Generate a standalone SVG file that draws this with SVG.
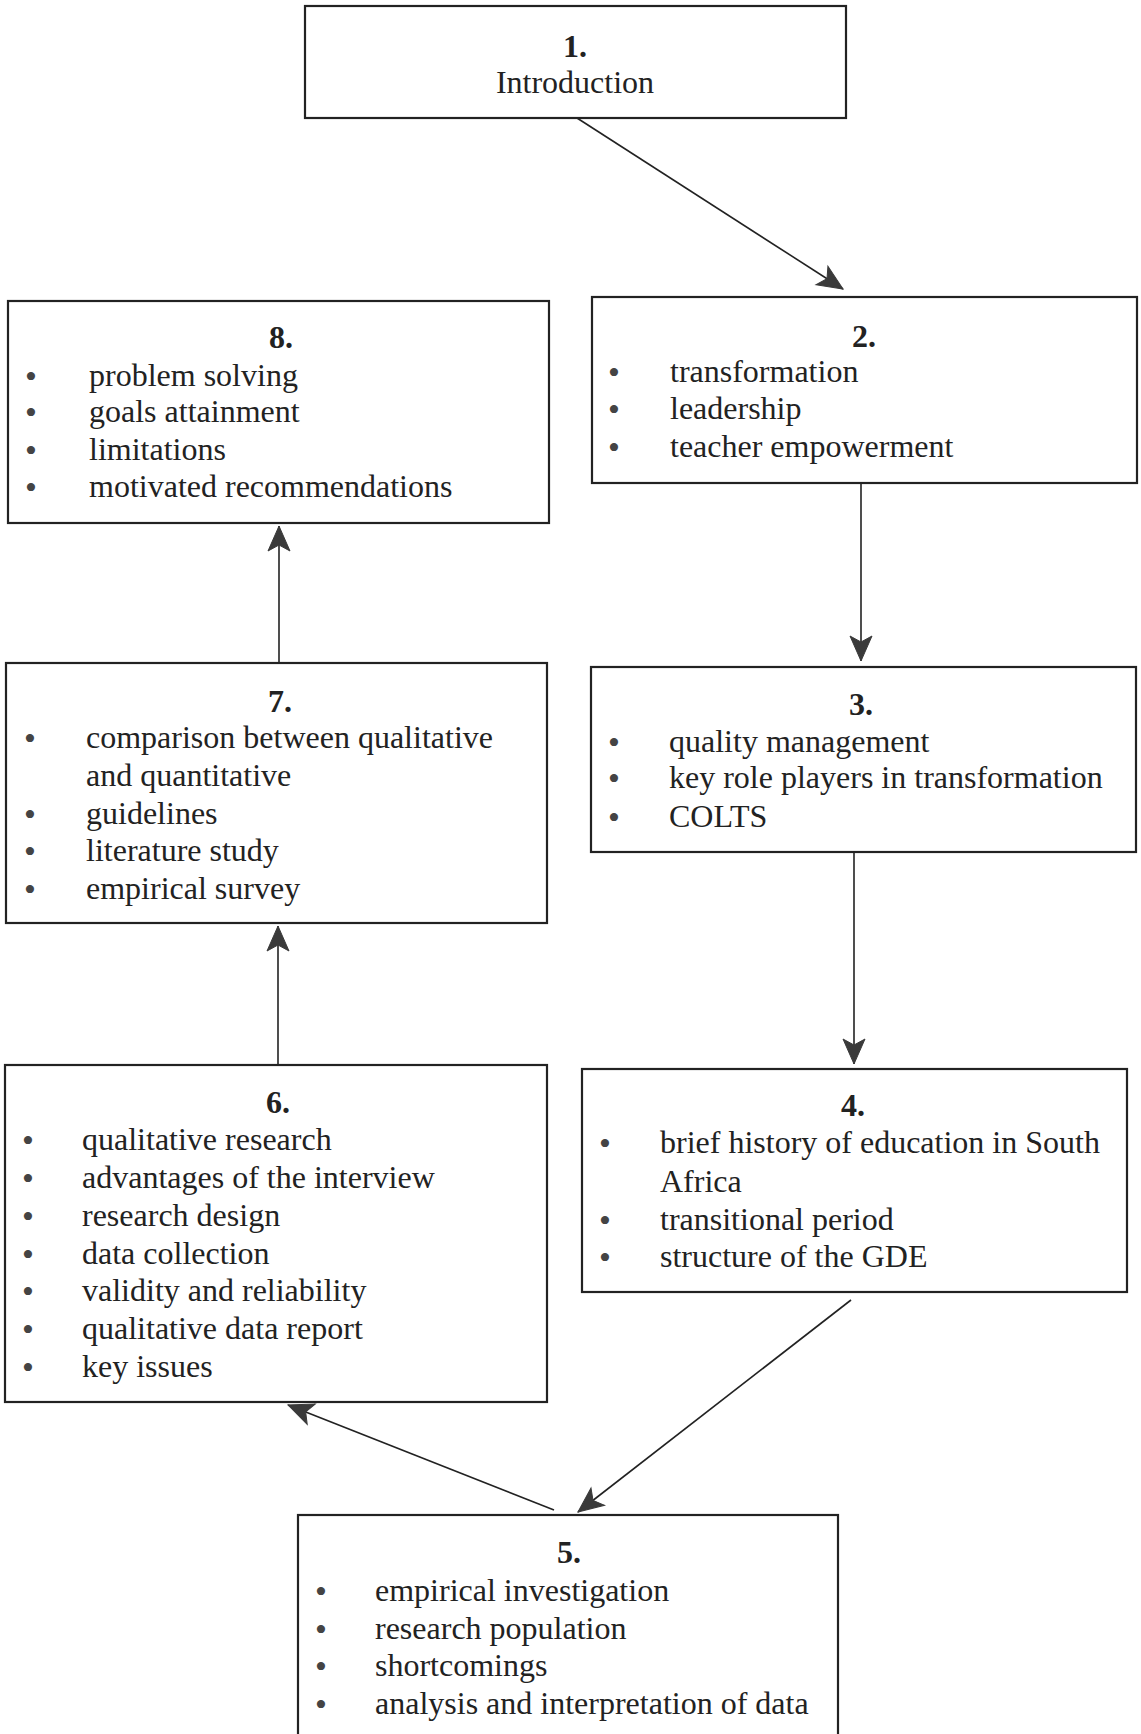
<svg xmlns="http://www.w3.org/2000/svg" width="1141" height="1734" viewBox="0 0 1141 1734">
<style>
.box{fill:#fff;stroke:#222;stroke-width:2.2}
.t{font-family:"Liberation Serif","Times New Roman",serif;font-size:32px;fill:#222}
.n{font-family:"Liberation Serif","Times New Roman",serif;font-size:32px;font-weight:bold;fill:#222;text-anchor:middle}
.b{font-family:"Liberation Serif","Times New Roman",serif;font-size:34px;fill:#444;text-anchor:middle}
.c{fill:none;stroke:#222;stroke-width:1.6}
</style>
<defs>
<marker id="ah" markerUnits="userSpaceOnUse" markerWidth="30" markerHeight="28" viewBox="-28 -14 30 28" refX="0" refY="0" orient="auto">
<path d="M0,0 L-25,-11 L-19,0 L-25,11 Z" fill="#3a3a3a" stroke="#3a3a3a" stroke-width="1" stroke-linejoin="miter"/>
</marker>
</defs>
<rect width="1141" height="1734" fill="#fff"/>
<g id="connectors">
<line class="c" x1="577" y1="118" x2="843" y2="289" marker-end="url(#ah)"/>
<line class="c" x1="861" y1="483" x2="861" y2="661" marker-end="url(#ah)"/>
<line class="c" x1="854" y1="852" x2="854" y2="1064" marker-end="url(#ah)"/>
<line class="c" x1="851" y1="1300" x2="578" y2="1512" marker-end="url(#ah)"/>
<line class="c" x1="554" y1="1510" x2="288" y2="1405" marker-end="url(#ah)"/>
<line class="c" x1="278" y1="1065" x2="278" y2="926" marker-end="url(#ah)"/>
<line class="c" x1="279" y1="663" x2="279" y2="526" marker-end="url(#ah)"/>
</g>
<g id="node1">
<rect class="box" x="305" y="6" width="541" height="112"/>
<text class="n" x="575" y="57">1.</text>
<text class="t" x="575" y="93" text-anchor="middle">Introduction</text>
</g>
<g id="node2">
<rect class="box" x="592" y="297" width="545" height="186"/>
<text class="n" x="864" y="347">2.</text>
<text class="b" x="614" y="384">•</text><text class="t" x="670" y="382">transformation</text>
<text class="b" x="614" y="421">•</text><text class="t" x="670" y="419">leadership</text>
<text class="b" x="614" y="459">•</text><text class="t" x="670" y="457">teacher empowerment</text>
</g>
<g id="node3">
<rect class="box" x="591" y="667" width="545" height="185"/>
<text class="n" x="861" y="715">3.</text>
<text class="b" x="614" y="754">•</text><text class="t" x="669" y="752">quality management</text>
<text class="b" x="614" y="790">•</text><text class="t" x="669" y="788">key role players in transformation</text>
<text class="b" x="614" y="829">•</text><text class="t" x="669" y="827">COLTS</text>
</g>
<g id="node4">
<rect class="box" x="582" y="1069" width="545" height="223"/>
<text class="n" x="853" y="1116">4.</text>
<text class="b" x="605" y="1155">•</text><text class="t" x="660" y="1153">brief history of education in South</text>
<text class="t" x="660" y="1192">Africa</text>
<text class="b" x="605" y="1232">•</text><text class="t" x="660" y="1230">transitional period</text>
<text class="b" x="605" y="1269">•</text><text class="t" x="660" y="1267">structure of the GDE</text>
</g>
<g id="node5">
<rect class="box" x="298" y="1515" width="540" height="240"/>
<text class="n" x="569" y="1563">5.</text>
<text class="b" x="321" y="1603">•</text><text class="t" x="375" y="1601">empirical investigation</text>
<text class="b" x="321" y="1641">•</text><text class="t" x="375" y="1639">research population</text>
<text class="b" x="321" y="1678">•</text><text class="t" x="375" y="1676">shortcomings</text>
<text class="b" x="321" y="1716">•</text><text class="t" x="375" y="1714">analysis and interpretation of data</text>
</g>
<g id="node6">
<rect class="box" x="5" y="1065" width="542" height="337"/>
<text class="n" x="278" y="1113">6.</text>
<text class="b" x="28" y="1152">•</text><text class="t" x="82" y="1150">qualitative research</text>
<text class="b" x="28" y="1190">•</text><text class="t" x="82" y="1188">advantages of the interview</text>
<text class="b" x="28" y="1228">•</text><text class="t" x="82" y="1226">research design</text>
<text class="b" x="28" y="1266">•</text><text class="t" x="82" y="1264">data collection</text>
<text class="b" x="28" y="1303">•</text><text class="t" x="82" y="1301">validity and reliability</text>
<text class="b" x="28" y="1341">•</text><text class="t" x="82" y="1339">qualitative data report</text>
<text class="b" x="28" y="1379">•</text><text class="t" x="82" y="1377">key issues</text>
</g>
<g id="node7">
<rect class="box" x="6" y="663" width="541" height="260"/>
<text class="n" x="280" y="712">7.</text>
<text class="b" x="30" y="750">•</text><text class="t" x="86" y="748">comparison between qualitative</text>
<text class="t" x="86" y="786">and quantitative</text>
<text class="b" x="30" y="826">•</text><text class="t" x="86" y="824">guidelines</text>
<text class="b" x="30" y="863">•</text><text class="t" x="86" y="861">literature study</text>
<text class="b" x="30" y="901">•</text><text class="t" x="86" y="899">empirical survey</text>
</g>
<g id="node8">
<rect class="box" x="8" y="301" width="541" height="222"/>
<text class="n" x="281" y="348">8.</text>
<text class="b" x="31" y="388">•</text><text class="t" x="89" y="386">problem solving</text>
<text class="b" x="31" y="424">•</text><text class="t" x="89" y="422">goals attainment</text>
<text class="b" x="31" y="462">•</text><text class="t" x="89" y="460">limitations</text>
<text class="b" x="31" y="499">•</text><text class="t" x="89" y="497">motivated recommendations</text>
</g>
</svg>
